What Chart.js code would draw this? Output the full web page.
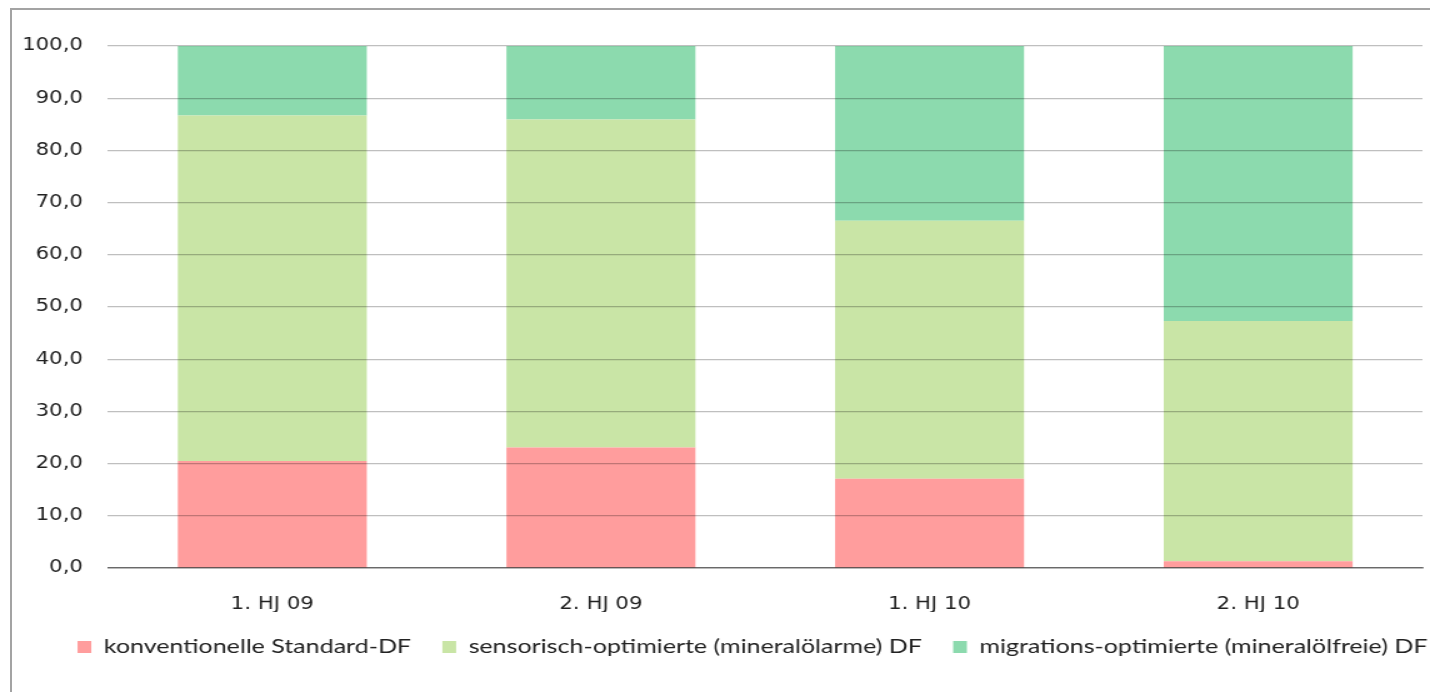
<!DOCTYPE html>
<html>
<head>
<meta charset="utf-8">
<script src="https://cdn.jsdelivr.net/npm/chart.js@4"></script>
<style>
  html, body { margin: 0; padding: 0; background: #fff; overflow: hidden; }
  body { width: 1430px; height: 692px; position: relative; }
  .frame {
    position: absolute; left: 10px; top: 8px; width: 1440px; height: 700px;
    border-top: 2px solid #a3a3a3; border-left: 2px solid #a3a3a3;
  }
  /* the chart is drawn a bit narrower and stretched out sideways */
  .wrap {
    position: absolute; left: 0; top: 0; width: 1144px; height: 692px;
    transform: scaleX(1.25); transform-origin: 0 0;
  }
</style>
</head>
<body>
<div class="frame"></div>
<div class="wrap"><canvas id="myChart" width="1144" height="692"></canvas></div>
<script>
const labels = ['1. HJ 09', '2. HJ 09', '1. HJ 10', '2. HJ 10'];
const konventionell = [20.5, 23.1, 17.1, 1.3];
const sensorisch = [66.2, 62.8, 49.4, 46.0];
const migration = [13.3, 14.1, 33.5, 52.7];
const yTicks = [0, 10, 20, 30, 40, 50, 60, 70, 80, 90, 100];

// legend sits a little right of centre
const legendShift = {
  id: 'legendShift',
  afterLayout(chart) {
    chart.legend.left += 33;
    chart.legend.right += 33;
  }
};

const ctx = document.getElementById('myChart');

new Chart(ctx, {
  type: 'bar',
  data: {
    labels: labels,
    datasets: [{
      label: 'konventionelle Standard-DF',
      data: konventionell,
      backgroundColor: '#ff9d9d'
    }, {
      label: 'sensorisch-optimierte (mineralölarme) DF',
      data: sensorisch,
      backgroundColor: '#c9e5a6'
    }, {
      label: 'migrations-optimierte (mineralölfreie) DF',
      data: migration,
      backgroundColor: '#8cdaae'
    }]
  },
  plugins: [legendShift],
  options: {
    responsive: false,
    animation: false,
    categoryPercentage: 1,
    barPercentage: 0.575,
    layout: {
      padding: { left: 0, right: 6, top: 46, bottom: 25 }
    },
    plugins: {
      tooltip: { enabled: false },
      legend: {
        position: 'bottom',
        labels: {
          boxWidth: 11,
          boxHeight: 12,
          padding: 25,
          color: '#222',
          font: { family: 'Lato', size: 20 }
        }
      }
    },
    scales: {
      x: {
        stacked: true,
        grid: { display: false },
        border: { display: true, color: 'rgba(0,0,0,0.45)', width: 1.5, z: 1 },
        ticks: {
          padding: 18,
          color: '#222',
          font: { family: 'DejaVu Sans', size: 17 }
        },
        afterFit: function(scale) { scale.height = 44; }
      },
      y: {
        stacked: true,
        min: 0,
        max: 100,
        border: { display: false },
        grid: { color: 'rgba(0,0,0,0.25)', lineWidth: 1.2, drawTicks: false, z: 1 },
        afterBuildTicks: function(scale) {
          scale.ticks = yTicks.map(v => ({ value: v }));
        },
        ticks: {
          padding: 20,
          color: '#222',
          font: { family: 'DejaVu Sans', size: 17 },
          callback: function(value) { return value.toFixed(1).replace('.', ','); }
        },
        afterFit: function(scale) { scale.width = 86.4; }
      }
    }
  }
});
</script>
</body>
</html>
